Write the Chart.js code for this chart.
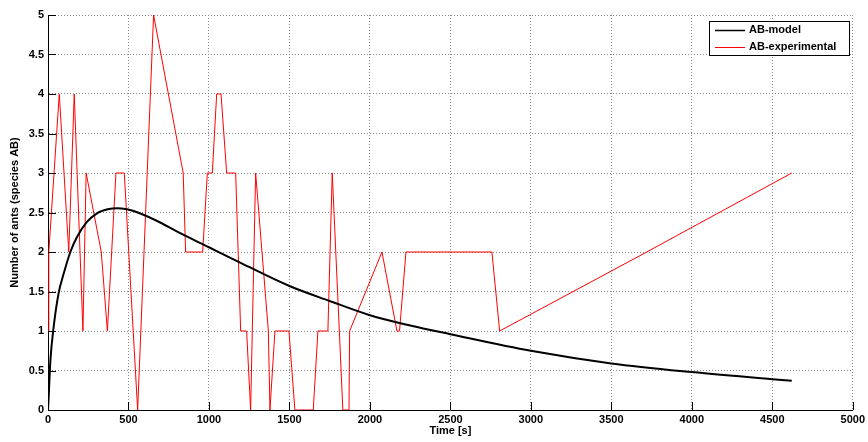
<!DOCTYPE html>
<html>
<head>
<meta charset="utf-8">
<script src="https://cdn.jsdelivr.net/npm/chart.js@4/dist/chart.umd.min.js"></script>
<style>
  html, body { margin: 0; padding: 0; background: #fff; }
  #wrap { width: 868px; height: 442px; position: relative; }
</style>
</head>
<body>
<div id="wrap"><canvas id="chart"></canvas></div>
<script>
// model curve
const modelTime = [0, 4, 15, 35, 66, 98, 139, 180, 242, 304, 370, 430, 490, 570, 700, 800, 1000, 1200, 1500, 1750, 2000, 2250, 2500, 3000, 3500, 4000, 4500, 4621];
const modelAB = [0, 0.16, 0.63, 1.05, 1.48, 1.73, 2.0, 2.19, 2.38, 2.49, 2.54, 2.555, 2.54, 2.49, 2.37, 2.26, 2.06, 1.86, 1.57, 1.38, 1.20, 1.07, 0.96, 0.75, 0.59, 0.48, 0.39, 0.37];

// experimental counts
const expTime = [0, 5, 70, 129, 163, 217, 237, 331, 369, 422, 474, 557, 656, 840, 855, 961, 990, 1021, 1048, 1075, 1110, 1166, 1197, 1234, 1259, 1290, 1369, 1379, 1410, 1497, 1534, 1648, 1677, 1739, 1766, 1832, 1870, 1874, 2075, 2168, 2184, 2224, 2758, 2806, 3720, 4621];
const expAB = [1, 2, 4, 2, 4, 1, 3, 2, 1, 3, 3, 0, 5, 3, 2, 2, 3, 3, 4, 4, 3, 3, 1, 1, 0, 3, 1, 0, 1, 1, 0, 0, 1, 1, 3, 0, 0, 1, 2, 1, 1, 2, 2, 1, 2, 3];

const xTicks = [0, 500, 1000, 1500, 2000, 2500, 3000, 3500, 4000, 4500, 5000];
const yTicks = [0, 0.5, 1, 1.5, 2, 2.5, 3, 3.5, 4, 4.5, 5];

const FONT = 'Liberation Sans, Arial, Helvetica, sans-serif';

// matlab style inward ticks + legend box
const matlabBits = {
  id: 'matlabBits',
  afterDraw(chart) {
    const { ctx, chartArea: a, scales } = chart;
    ctx.save();
    ctx.strokeStyle = '#000';
    ctx.lineWidth = 1;
    ctx.beginPath();
    xTicks.forEach(v => {
      const x = Math.round(scales.x.getPixelForValue(v)) + 0.5;
      ctx.moveTo(x, a.bottom);
      ctx.lineTo(x, a.bottom - 8);
    });
    yTicks.forEach(v => {
      const y = Math.round(scales.y.getPixelForValue(v)) + 0.5;
      ctx.moveTo(a.left, y);
      ctx.lineTo(a.left + 8, y);
    });
    ctx.stroke();

    // legend
    const lx = 709.5, ly = 21.5, lw = 140, lh = 34;
    ctx.fillStyle = '#fff';
    ctx.fillRect(lx, ly, lw, lh);
    ctx.strokeStyle = '#000';
    ctx.strokeRect(lx, ly, lw, lh);
    ctx.font = 'bold 11px ' + FONT;
    ctx.textBaseline = 'middle';
    chart.data.datasets.forEach((ds, i) => {
      const y = 30 + i * 16.5;
      ctx.strokeStyle = ds.borderColor;
      ctx.lineWidth = i === 0 ? 1.5 : 1;
      ctx.beginPath();
      ctx.moveTo(715, Math.round(y) + 0.5);
      ctx.lineTo(745, Math.round(y) + 0.5);
      ctx.stroke();
      ctx.fillStyle = '#000';
      ctx.fillText(ds.label, 749, y);
    });
    ctx.restore();
  }
};

new Chart(document.getElementById('chart'), {
  type: 'line',
  data: {
    datasets: [
      {
        label: 'AB-model',
        data: modelTime.map((t, i) => ({ x: t, y: modelAB[i] })),
        borderColor: '#000000',
        borderWidth: 2,
        pointRadius: 0,
        cubicInterpolationMode: 'monotone',
        fill: false,
      },
      {
        label: 'AB-experimental',
        data: expTime.map((t, i) => ({ x: t, y: expAB[i] })),
        borderColor: '#ff0000',
        borderWidth: 1,
        pointRadius: 0,
        tension: 0,
        fill: false,
      },
    ],
  },
  options: {
    responsive: true,
    maintainAspectRatio: false,
    animation: false,
    layout: { padding: { top: 15, right: 15, left: 0, bottom: 0 } },
    plugins: { legend: { display: false }, tooltip: { enabled: false } },
    scales: {
      x: {
        type: 'linear',
        min: 0,
        max: 5000,
        afterFit: s => { s.height = 32; },
        afterBuildTicks: s => { s.ticks = xTicks.map(v => ({ value: v })); },
        grid: { color: '#8a8a8a', drawTicks: false },
        border: { color: '#000', width: 1, dash: [1, 2] },
        ticks: { color: '#000', padding: 3, maxRotation: 0, autoSkip: false, callback: v => String(v), font: { family: FONT, size: 11, weight: 'bold' } },
        title: { display: true, text: 'Time [s]', color: '#000', padding: { top: 5 }, font: { family: FONT, size: 11, weight: 'bold' } },
      },
      y: {
        min: 0,
        max: 5,
        afterFit: s => { s.width = 48; },
        afterBuildTicks: s => { s.ticks = yTicks.map(v => ({ value: v })); },
        grid: { color: '#8a8a8a', drawTicks: false },
        border: { color: '#000', width: 1, dash: [1, 2] },
        ticks: { color: '#000', padding: 4, callback: v => String(v), font: { family: FONT, size: 11, weight: 'bold' } },
        title: { display: true, text: 'Number of ants (species AB)', color: '#000', padding: { top: 8 }, font: { family: FONT, size: 11, weight: 'bold' } },
      },
    },
  },
  plugins: [matlabBits],
});
</script>
</body>
</html>
